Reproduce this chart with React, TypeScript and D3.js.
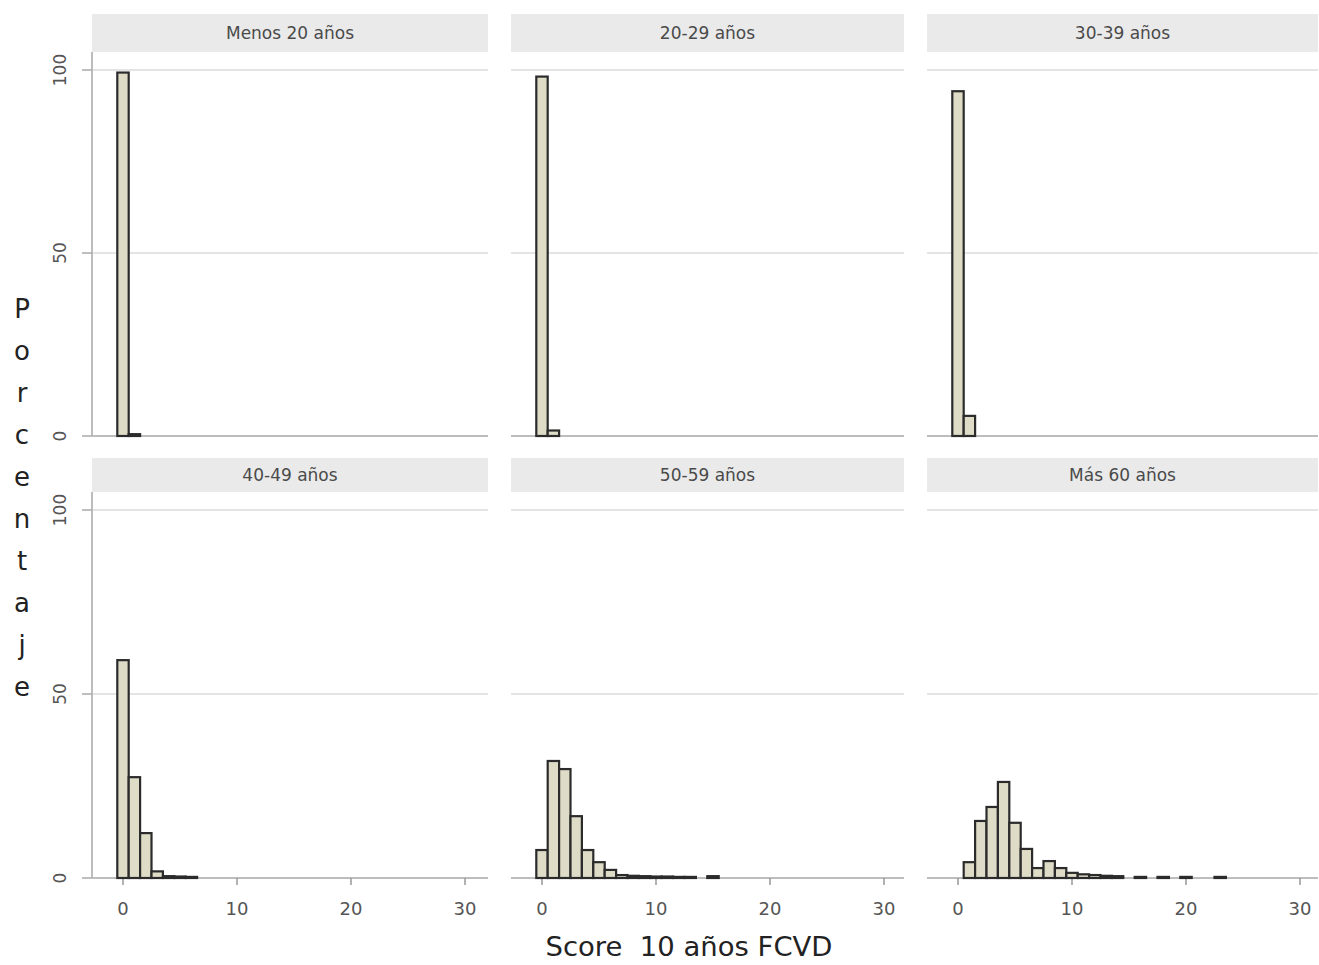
import React from "react";
import * as d3 from "d3";

const panelTitles = ["Menos 20 años", "20-29 años", "30-39 años", "40-49 años", "50-59 años", "Más 60 años"];
const menos20 = [99.3, 0.5];
const a20_29 = [98.2, 1.5];
const a30_39 = [94.2, 5.5];
const a40_49 = [59.2, 27.4, 12.2, 1.8, 0.5, 0.4, 0.3];
const a50_59 = [7.6, 31.8, 29.6, 16.8, 7.6, 4.3, 2.2, 0.8, 0.6, 0.5, 0.4, 0.4, 0.3, 0.3, 0, 0.5];
const mas60 = [0, 4.3, 15.5, 19.3, 26.1, 15, 7.9, 2.7, 4.6, 2.7, 1.4, 1.0, 0.8, 0.6, 0.5, 0, 0.3, 0, 0.3, 0, 0.3, 0, 0, 0.3];
const seriesList = [menos20, a20_29, a30_39, a40_49, a50_59, mas60];
const xTicks = [0, 10, 20, 30];
const yTicks = [0, 50, 100];
const yTitle = "Porcentaje";
const xTitle = "Score  10 años FCVD";

const colX = [92, 511, 927];
const colW = [396, 393, 391];
const rows = [
  { stripTop: 14, stripBot: 52, y0: 436, y100: 70 },
  { stripTop: 458, stripBot: 492, y0: 878, y100: 510 },
];

export default function App() {
  const font = "'DejaVu Sans', Verdana, sans-serif";
  return (
    <svg width={1319} height={965} style={{ position: "absolute", left: 0, top: 0, background: "#fff" }}>
      {seriesList.map((vals, i) => {
        const r = Math.floor(i / 3);
        const c = i % 3;
        const row = rows[r];
        const x0 = colX[c];
        const w = colW[c];
        const x = d3.scaleLinear().domain([0, 30]).range([x0 + 31, x0 + 373]);
        const y = d3.scaleLinear().domain([0, 100]).range([row.y0, row.y100]);
        const bw = x(1) - x(0);
        return (
          <g key={i}>
            <rect x={x0} y={row.stripTop} width={w} height={row.stripBot - row.stripTop} fill="#eaeaea" />
            <text x={x0 + w / 2} y={(row.stripTop + row.stripBot) / 2 + 6} textAnchor="middle" fontFamily={font} fontSize={17} fill="#4a4a4a">
              {panelTitles[i]}
            </text>
            {yTicks.filter((t) => t > 0).map((t) => (
              <line key={t} x1={x0} x2={x0 + w} y1={y(t)} y2={y(t)} stroke="#e4e4e4" strokeWidth={2} />
            ))}
            <line x1={x0} x2={x0 + w} y1={y(0)} y2={y(0)} stroke="#bdbdbd" strokeWidth={2} />
            {r === 1 &&
              xTicks.map((t) => (
                <g key={t}>
                  <line x1={x(t)} x2={x(t)} y1={y(0)} y2={y(0) + 7} stroke="#999" strokeWidth={1.5} />
                  <text x={x(t)} y={y(0) + 37} textAnchor="middle" fontFamily={font} fontSize={18} fill="#555">
                    {t}
                  </text>
                </g>
              ))}
            {c === 0 && (
              <g>
                <line x1={x0} x2={x0} y1={row.stripBot} y2={y(0)} stroke="#bdbdbd" strokeWidth={2} />
                {yTicks.map((t) => (
                  <g key={t}>
                    <line x1={x0 - 10} x2={x0} y1={y(t)} y2={y(t)} stroke="#aaa" strokeWidth={1.5} />
                    <text transform={`translate(${66},${y(t)}) rotate(-90)`} textAnchor="middle" fontFamily={font} fontSize={17} fill="#555">
                      {t}
                    </text>
                  </g>
                ))}
              </g>
            )}
            {vals.map((v, k) =>
              v > 0 ? (
                <rect key={k} x={x(k) - bw / 2} y={y(v)} width={bw} height={y(0) - y(v)} fill="#dedbc6" stroke="#2b2b2b" strokeWidth={2.2} />
              ) : null
            )}
          </g>
        );
      })}
      {yTitle.split("").map((ch, k) => (
        <text key={k} x={22} y={318 + k * 42} textAnchor="middle" fontFamily={font} fontSize={26} fill="#222">
          {ch}
        </text>
      ))}
      <text x={689} y={956} textAnchor="middle" fontFamily={font} fontSize={27} fill="#222" textLength={287} lengthAdjust="spacingAndGlyphs" style={{ whiteSpace: "pre" }}>
        {xTitle}
      </text>
    </svg>
  );
}
